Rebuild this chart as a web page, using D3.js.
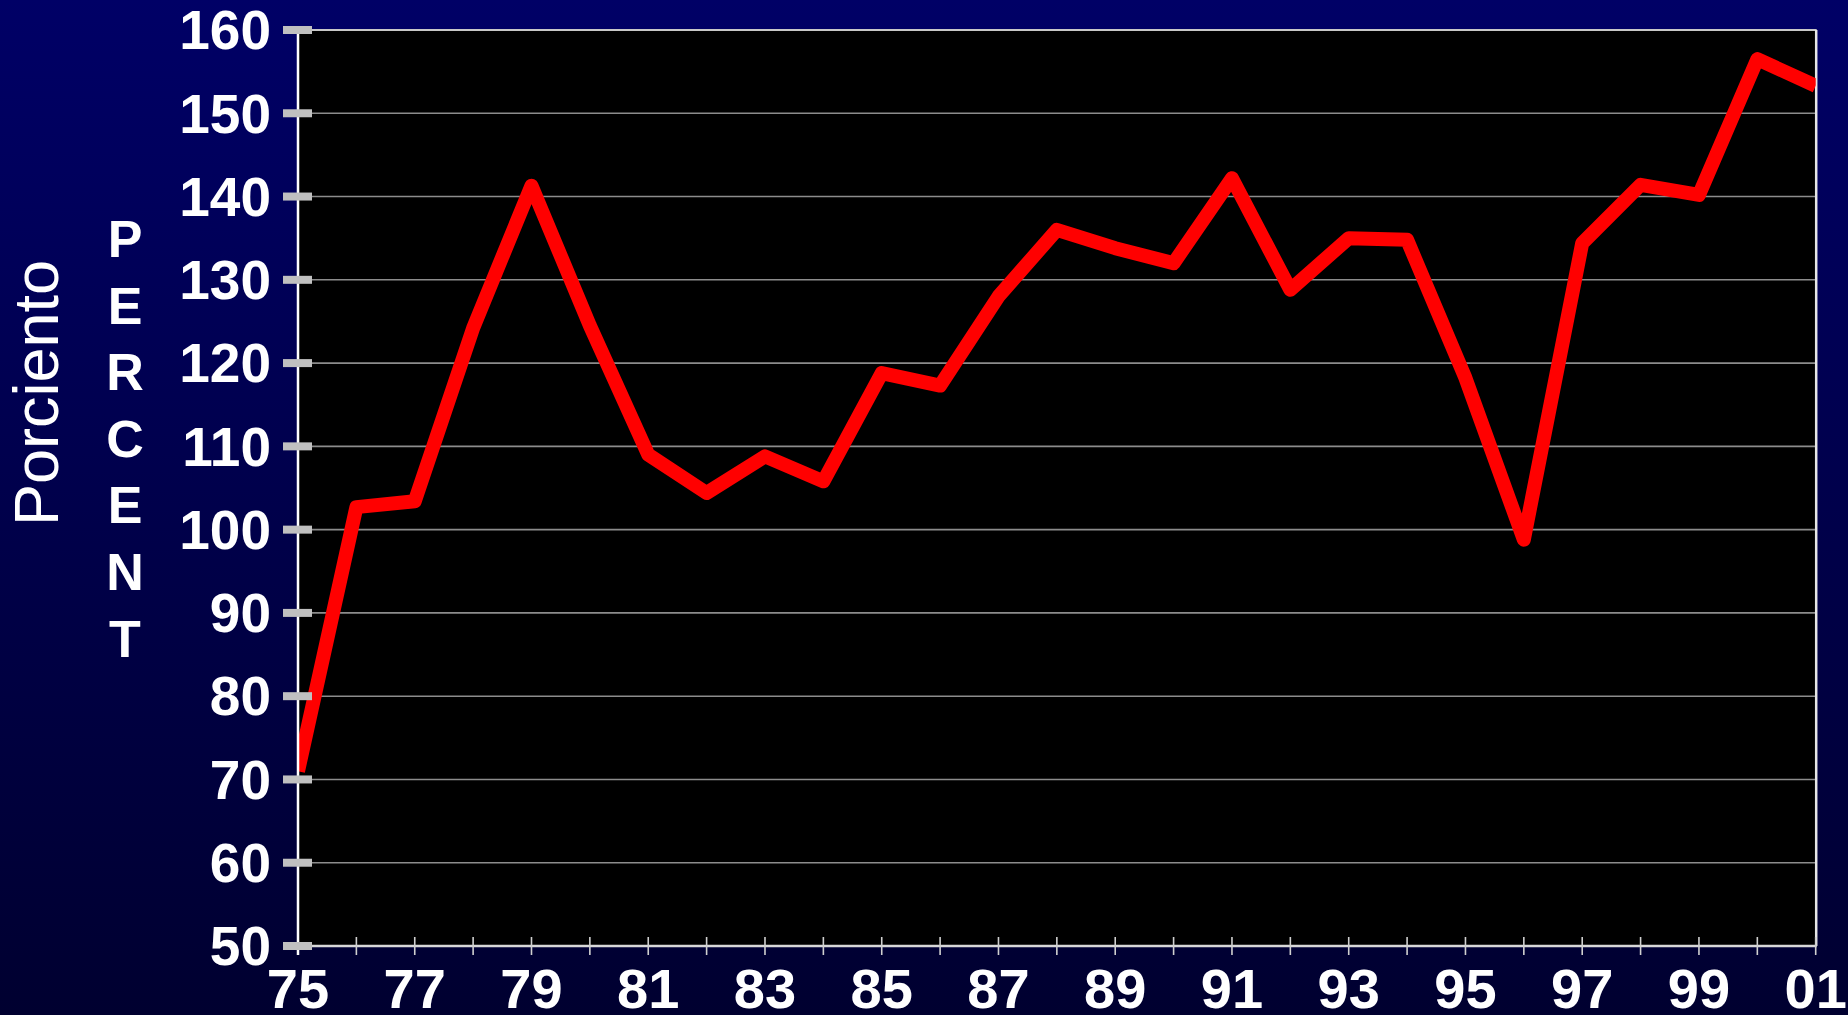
<!DOCTYPE html>
<html>
<head>
<meta charset="utf-8">
<script src="https://cdn.jsdelivr.net/npm/d3@7"></script>
<style>
  body { margin: 0; background: #000044; }
  svg { display: block; }
  text { font-family: "Liberation Sans", Arial, sans-serif; fill: #fff; }
</style>
</head>
<body>
<svg width="1848" height="1015"></svg>
<script>
const years = ["75","76","77","78","79","80","81","82","83","84","85","86","87","88",
  "89","90","91","92","93","94","95","96","97","98","99","00","01"];
const percent = [71, 102.7, 103.4, 124.2, 141.3, 124.5, 109, 104.4, 108.8, 105.8, 118.8,
  117.3, 128, 136, 133.8, 132, 142.2, 128.8, 135, 134.8, 118.2, 98.8, 134.4, 141.4,
  140.2, 156.5, 153.3];
const yTicks = [50, 60, 70, 80, 90, 100, 110, 120, 130, 140, 150, 160];
const xLabels = ["75","77","79","81","83","85","87","89","91","93","95","97","99","01"];

const svg = d3.select("svg");
var width = +svg.attr("width");
var height = +svg.attr("height");

// background gradient
var defs = svg.append("defs");
var grad = defs.append("linearGradient").attr("id", "bg")
  .attr("x1", 0).attr("y1", 0).attr("x2", 0).attr("y2", 1);
grad.append("stop").attr("offset", "0%").attr("stop-color", "#000066");
grad.append("stop").attr("offset", "100%").attr("stop-color", "#000030");
svg.append("rect").attr("width", width).attr("height", height).attr("fill", "url(#bg)");

var x = d3.scaleLinear().domain([0, years.length - 1]).range([298, 1815.7]);
var y = d3.scaleLinear().domain([50, 160]).range([946, 30]);

var x0 = x.range()[0], x1 = x.range()[1];
var yTop = y(160), yBot = y(50);

defs.append("clipPath").attr("id", "plotclip")
  .append("rect").attr("x", x0).attr("y", yTop - 20)
  .attr("width", x1 - x0).attr("height", yBot - yTop + 20);

svg.append("rect").attr("x", x0).attr("y", yTop)
  .attr("width", x1 - x0).attr("height", yBot - yTop).attr("fill", "#000");

// gridlines
svg.append("g").selectAll("line").data(yTicks.filter(d => d > 50 && d < 160))
  .join("line")
  .attr("x1", x0).attr("x2", x1)
  .attr("y1", d => y(d)).attr("y2", d => y(d))
  .attr("stroke", "#8c8c8c").attr("stroke-width", 1.6);

// borders top / right
svg.append("line").attr("x1", x0).attr("x2", x1 + 1).attr("y1", yTop).attr("y2", yTop)
  .attr("stroke", "#c8c8c8").attr("stroke-width", 2);
svg.append("line").attr("x1", x1 + 0.5).attr("x2", x1 + 0.5).attr("y1", yTop).attr("y2", yBot)
  .attr("stroke", "#e6e6e6").attr("stroke-width", 2.5);

// the line
var line = d3.line()
  .x((d, i) => x(i))
  .y(d => y(d));

svg.append("path")
  .datum(percent)
  .attr("clip-path", "url(#plotclip)")
  .attr("d", line)
  .attr("fill", "none")
  .attr("stroke", "#ff0000")
  .attr("stroke-width", 14)
  .attr("stroke-linejoin", "round")
  .attr("stroke-linecap", "butt");

// x axis line and ticks
svg.append("line").attr("x1", x0).attr("x2", x1 + 1).attr("y1", yBot).attr("y2", yBot)
  .attr("stroke", "#d8d8d8").attr("stroke-width", 2.5);
svg.append("g").selectAll("line").data(years)
  .join("line")
  .attr("x1", (d, i) => x(i)).attr("x2", (d, i) => x(i))
  .attr("y1", yBot - 9).attr("y2", yBot + 9)
  .attr("stroke", "#d0d0d0").attr("stroke-width", 1.6);

// y axis line
svg.append("line").attr("x1", x0).attr("x2", x0).attr("y1", yTop).attr("y2", yBot + 9)
  .attr("stroke", "#ffffff").attr("stroke-width", 2.5);

// y ticks: thick grey bars
svg.append("g").selectAll("line").data(yTicks)
  .join("line")
  .attr("x1", x0 - 15).attr("x2", x0 + 14)
  .attr("y1", d => y(d)).attr("y2", d => y(d))
  .attr("stroke", "#c0c0c0").attr("stroke-width", 8);

// y labels
svg.append("g").selectAll("text").data(yTicks)
  .join("text")
  .attr("x", 271)
  .attr("y", d => y(d))
  .attr("dy", "0.35em")
  .attr("text-anchor", "end")
  .attr("font-size", 55)
  .attr("font-weight", "bold")
  .text(d => d);

// x labels
svg.append("g").selectAll("text").data(xLabels)
  .join("text")
  .attr("x", d => x(years.indexOf(d)))
  .attr("y", 1008)
  .attr("text-anchor", "middle")
  .attr("font-size", 56)
  .attr("font-weight", "bold")
  .text(d => d);

// PERCENT stacked
svg.append("g").selectAll("text").data("PERCENT".split(""))
  .join("text")
  .attr("x", 125)
  .attr("y", (d, i) => 257 + i * 66.6)
  .attr("text-anchor", "middle")
  .attr("font-size", 52)
  .attr("font-weight", "bold")
  .text(d => d);

// Porciento
svg.append("text")
  .attr("transform", "translate(58,393) rotate(-90)")
  .attr("text-anchor", "middle")
  .attr("font-size", 63)
  .text("Porciento");
</script>
</body>
</html>
